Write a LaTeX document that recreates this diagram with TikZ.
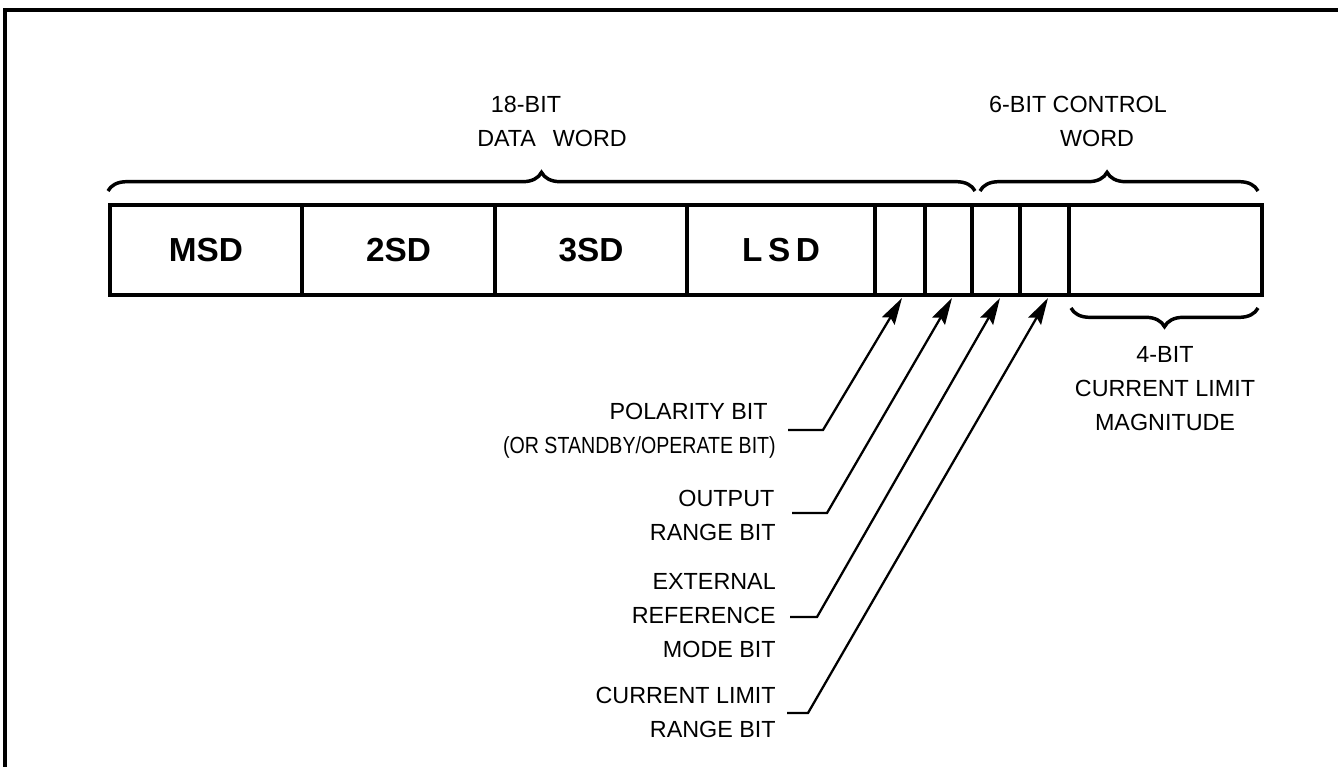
\documentclass[tikz,border=0pt]{standalone}
\usepackage{fontspec}
\setmainfont{Liberation Sans}
\usetikzlibrary{arrows.meta,decorations.pathreplacing}
\begin{document}
\begin{tikzpicture}[x=0.75pt,y=-0.75pt,
  cell/.style={draw,line width=2.7pt,minimum height=67.5pt,inner sep=0pt,outer sep=0pt,anchor=north west,font=\fontsize{25}{28}\selectfont\bfseries},
  lbl/.style={font=\fontsize{17.5}{25.5}\selectfont,inner sep=0pt,align=right,anchor=east},
  ttl/.style={font=\fontsize{17.5}{25.5}\selectfont,inner sep=0pt},
  brc/.style={decorate,decoration={brace,amplitude=14pt,#1},line width=2.6pt},
  brc/.default={},
  arr/.style={line width=1.7pt,-{Stealth[length=20pt,width=11pt,inset=3pt]}},
  ldr/.style={line width=1.7pt}]
\useasboundingbox (0,0) rectangle (1338,767);
% frame
\draw[line width=2.5pt] (5,767) -- (5,10) -- (1338,10);
% cells
\node[cell,minimum width=144pt] (msd) at (110,205) {MSD};
\node[cell,minimum width=144.75pt] (sd2) at (302,205) {2SD};
\node[cell,minimum width=144pt] (sd3) at (495,205) {3SD};
\node[cell,minimum width=141pt] (lsd) at (687,205) {L\,S\,D};
\node[cell,minimum width=37.5pt] (b1) at (875,205) {};
\node[cell,minimum width=35.25pt] (b2) at (925,205) {};
\node[cell,minimum width=36pt] (b3) at (972,205) {};
\node[cell,minimum width=36.75pt] (b4) at (1020,205) {};
\node[cell,minimum width=144.75pt] (mag) at (1069,205) {};
% braces
\coordinate (d1) at (108,191);
\coordinate (d2) at (975,191);
\coordinate (c1) at (980,191);
\coordinate (c2) at (1258,191);
\coordinate (m1) at (1258,308);
\coordinate (m2) at (1071,308);
\draw[brc] (d1) -- (d2);
\draw[brc={aspect=0.457}] (c1) -- (c2);
\draw[brc] (m1) -- (m2);
% titles
\node[ttl] (t18) at (526,104) {18-BIT};
\node[ttl] (tdw) at (552,138) {DATA\ \ \,WORD};
\node[ttl] (t6) at (1078,104) {6-BIT CONTROL};
\node[ttl] (tw) at (1097,138) {WORD};
\node[ttl,align=center] (t4) at (1165,389) {4-BIT\\CURRENT LIMIT\\MAGNITUDE};
% labels
\node[lbl] (pol) at (776,431) {POLARITY BIT\hspace*{6pt}\\\scalebox{0.84}[1]{(OR STANDBY/OPERATE BIT)}};
\node[lbl] (out) at (776,515) {OUTPUT\hspace*{1pt}\\RANGE BIT};
\node[lbl] (ext) at (776,616) {EXTERNAL\\REFERENCE\\MODE BIT};
\node[lbl] (cur) at (776,712) {CURRENT LIMIT\\RANGE BIT};
% leader coordinates
\coordinate (p1s) at (788,430); \coordinate (p1b) at (823,430); \coordinate (q1) at (902,298);
\coordinate (p2s) at (792,513); \coordinate (p2b) at (827,513); \coordinate (q2) at (952,298);
\coordinate (p3s) at (790,617); \coordinate (p3b) at (817,617); \coordinate (q3) at (1000,298);
\coordinate (p4s) at (787,713); \coordinate (p4b) at (808,713); \coordinate (q4) at (1048,298);
\draw[arr] (p1s) -- (p1b) -- (q1);
\draw[arr] (p2s) -- (p2b) -- (q2);
\draw[arr] (p3s) -- (p3b) -- (q3);
\draw[arr] (p4s) -- (p4b) -- (q4);
\end{tikzpicture}
\end{document}
